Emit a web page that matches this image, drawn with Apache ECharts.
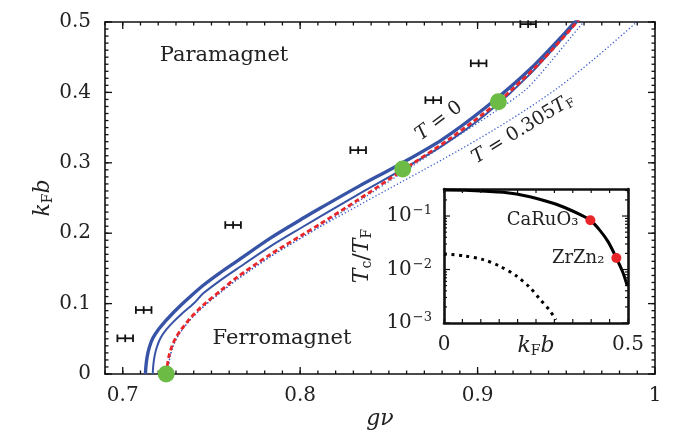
<!DOCTYPE html>
<html>
<head>
<meta charset="utf-8">
<script src="https://cdn.jsdelivr.net/npm/echarts@6/dist/echarts.min.js"></script>
<style>
  html, body { margin: 0; padding: 0; background: #fff; }
  #main { width: 690px; height: 440px; }
</style>
</head>
<body>
<div id="main"></div>
<script>
// ---- main panel: k_F b against g nu ----
const xMajor = [0.7, 0.8, 0.9, 1.0];
const yMajor = [0, 0.1, 0.2, 0.3, 0.4, 0.5];

// T = 0, thick solid
const curveT0 = [[0.7128, 0], [0.7131, 0.012], [0.7138, 0.025], [0.7150, 0.038], [0.7170, 0.051],
  [0.7200, 0.063], [0.7240, 0.075], [0.7266, 0.082], [0.7300, 0.091], [0.7370, 0.1075],
  [0.7454, 0.126], [0.7550, 0.144], [0.7642, 0.160], [0.7830, 0.1927], [0.8018, 0.2215],
  [0.8112, 0.2354], [0.8330, 0.2665], [0.8544, 0.2955], [0.8800, 0.3330], [0.9052, 0.3800],
  [0.9300, 0.4340], [0.9550, 0.5000], [0.9620, 0.5200]];
// second solid curve
const curveSolid2 = [[0.7169, 0], [0.7172, 0.012], [0.7179, 0.025], [0.7192, 0.038], [0.7213, 0.051],
  [0.7245, 0.063], [0.7285, 0.074], [0.7330, 0.085], [0.7400, 0.100], [0.7454, 0.1146],
  [0.7550, 0.1330], [0.7642, 0.149], [0.7830, 0.181], [0.8018, 0.2095], [0.8112, 0.2235],
  [0.8330, 0.2555], [0.8544, 0.2860], [0.8800, 0.3240], [0.9052, 0.3700], [0.9300, 0.4270],
  [0.9560, 0.5000], [0.9630, 0.5200]];
// red dashed
const curveDashed = [[0.7245, 0], [0.7250, 0.010], [0.7260, 0.025], [0.7278, 0.040], [0.7298, 0.051],
  [0.7323, 0.061], [0.7380, 0.079], [0.7454, 0.098], [0.7550, 0.118], [0.7642, 0.137],
  [0.7830, 0.1695], [0.8018, 0.1985], [0.8112, 0.2130], [0.8330, 0.2480], [0.8578, 0.2895],
  [0.8850, 0.3355], [0.9117, 0.3868], [0.9350, 0.4420], [0.9560, 0.5000], [0.9620, 0.5200]];
// dotted, close to the dashed one
const curveDotted1 = [[0.7252, 0], [0.7257, 0.010], [0.7267, 0.025], [0.7285, 0.040], [0.7305, 0.051],
  [0.7330, 0.061], [0.7387, 0.079], [0.7461, 0.097], [0.7557, 0.117], [0.7649, 0.135],
  [0.7837, 0.1675], [0.8025, 0.1965], [0.8119, 0.2110], [0.8334, 0.2460], [0.8582, 0.2870],
  [0.8882, 0.3370], [0.9100, 0.3730], [0.9258, 0.4010], [0.9333, 0.4200], [0.9597, 0.5000],
  [0.9660, 0.5200]];
// dotted, T = 0.305 T_F
const curveDotted2 = [[0.7252, 0], [0.7257, 0.010], [0.7267, 0.025], [0.7285, 0.040], [0.7305, 0.051],
  [0.7330, 0.061], [0.7387, 0.079], [0.7461, 0.097], [0.7557, 0.117], [0.7649, 0.135],
  [0.7837, 0.1675], [0.8025, 0.1960], [0.8119, 0.2100], [0.8334, 0.2400], [0.8507, 0.2640],
  [0.8700, 0.2905], [0.8882, 0.3160], [0.9080, 0.3450], [0.9258, 0.3730], [0.9450, 0.4060],
  [0.9650, 0.4460], [0.9897, 0.5000], [0.9980, 0.5200]];

const greenX = [0.7245, 0.8578, 0.9117];
const greenY = [0, 0.2912, 0.3868];

const errX = [0.7014, 0.7118, 0.7622, 0.8327, 0.8750, 0.9006, 0.9285];
const errY = [0.0507, 0.0909, 0.2116, 0.3180, 0.3890, 0.4413, 0.4970];
const errW = [0.0044, 0.0044, 0.0044, 0.0044, 0.0044, 0.0044, 0.0044];

// ---- inset: T_c / T_F against k_F b (log) ----
const insetXLabels = [0, 0.5];
const insetYMajor = [0.001, 0.01, 0.1];
const insetYMinor = [0.002, 0.003, 0.004, 0.005, 0.006, 0.007, 0.008, 0.009,
  0.02, 0.03, 0.04, 0.05, 0.06, 0.07, 0.08, 0.09, 0.2, 0.3];
const tcSolid = [[0, 0.305], [0.0705, 0.301], [0.161, 0.277], [0.2333, 0.230], [0.2966, 0.173],
  [0.3418, 0.131], [0.3689, 0.107], [0.3978, 0.0832], [0.4231, 0.0545], [0.4458, 0.0332],
  [0.4684, 0.0164], [0.4864, 0.0087], [0.4973, 0.0051]];
const tcDotted = [[0, 0.0195], [0.0524, 0.0181], [0.1067, 0.0153], [0.1519, 0.0115],
  [0.1971, 0.00754], [0.2333, 0.0046], [0.2604, 0.0028], [0.2875, 0.00171], [0.3040, 0.00115]];
const materials = ['CaRuO₃', 'ZrZn₂'];
const materialX = [0.3978, 0.4684];
const materialY = [0.0832, 0.0164];

// evenly spaced tick positions (axis furniture, not data)
function steps(from, to, step) {
  const out = [];
  for (let v = from; v <= to + step / 2; v += step) out.push(+v.toFixed(4));
  return out;
}
const xMinor = steps(0.69, 1.0, 0.01);
const yMinor = steps(0, 0.5, 0.01);
const insetXTicks = steps(0, 0.5, 0.05);

const ink = '#222';
const serif = 'DejaVu Serif';
const blue = '#3653a6';
const dotBlue = '#3d5fc9';
const red = '#e8262a';
const green = '#6bbb45';

const richText = {
  i: { fontFamily: serif, fontStyle: 'italic', fontSize: 22, color: ink },
  r: { fontFamily: serif, fontSize: 22, color: ink },
  s: { fontFamily: serif, fontSize: 14, color: ink, padding: [9, 0, 0, 0] }
};
const smallRich = {
  i: { fontFamily: serif, fontStyle: 'italic', fontSize: 19, color: ink },
  r: { fontFamily: serif, fontSize: 19, color: ink },
  s: { fontFamily: serif, fontSize: 12, color: ink, padding: [8, 0, 0, 0] }
};

function frame(extra, w) {
  return Object.assign({
    type: 'value',
    nameMoveOverlap: false,
    axisLine: { show: true, onZero: false, lineStyle: { color: '#111', width: w || 1.6 } },
    splitLine: { show: false },
    axisLabel: { show: false },
    axisTick: { show: false }
  }, extra);
}

// inside ticks on both edges of a grid, drawn through the axis scale
function tickSeries(xi, yi, dir, items, lineW) {
  return {
    type: 'custom', xAxisIndex: xi, yAxisIndex: yi, z: 9, silent: true, clip: false,
    data: items,
    encode: { x: 0, y: 1 },
    renderItem: function (params, api) {
      const cs = params.coordSys;
      const p = api.coord([api.value(0), api.value(1)]);
      const len = api.value(2);
      const st = { stroke: '#111', lineWidth: lineW };
      let a, b;
      if (dir === 'x') {
        a = { x1: p[0], y1: cs.y + cs.height, x2: p[0], y2: cs.y + cs.height - len };
        b = { x1: p[0], y1: cs.y, x2: p[0], y2: cs.y + len };
      } else {
        a = { x1: cs.x, y1: p[1], x2: cs.x + len, y2: p[1] };
        b = { x1: cs.x + cs.width, y1: p[1], x2: cs.x + cs.width - len, y2: p[1] };
      }
      return { type: 'group', children: [
        { type: 'line', shape: a, style: st },
        { type: 'line', shape: b, style: st }
      ] };
    }
  };
}

function line(data, color, width, type, z) {
  return {
    type: 'line', xAxisIndex: 0, yAxisIndex: 0, data: data, showSymbol: false,
    smooth: 0.3, z: z, silent: true,
    lineStyle: { color: color, width: width, type: type, cap: 'butt' }
  };
}

const mainXTicks = xMinor.map(function (v) { return [v, 0.25, 3.5]; })
  .concat(xMajor.map(function (v) { return [v, 0.25, 7]; }));
const mainYTicks = yMinor.map(function (v) { return [0.8, v, 3.5]; })
  .concat(yMajor.map(function (v) { return [0.8, v, 7]; }));
const inXTicks = insetXTicks.map(function (v) { return [v, 0.01, 4]; });
const inYTicks = insetYMinor.map(function (v) { return [0, v, 3]; })
  .concat(insetYMajor.map(function (v) { return [0, v, 6]; }));

const chart = echarts.init(document.getElementById('main'));

const option = {
  animation: false,
  backgroundColor: '#fff',
  grid: [
    { left: 105, top: 22, right: 35, bottom: 66 },
    { left: 444, top: 189, width: 184, height: 134, show: true, backgroundColor: '#fff', borderWidth: 0, z: 5 },
    // same box as the main panel, carries only its tick marks
    { left: 105, top: 22, width: 550, height: 352, show: true, backgroundColor: 'transparent', borderWidth: 0, z: 8 }
  ],
  xAxis: [
    frame({
      gridIndex: 0, position: 'bottom', min: 0.69, max: 1,
      axisLabel: { show: true, customValues: xMajor, fontFamily: serif, fontSize: 20, color: ink, margin: 12 },
      name: '{i|gν}', nameLocation: 'middle', nameGap: 34,
      nameTextStyle: { rich: richText }
    }),
    frame({ gridIndex: 0, position: 'top', min: 0.69, max: 1 }),
    frame({
      gridIndex: 1, position: 'bottom', min: 0, max: 0.5, z: 6,
      axisLabel: { show: true, customValues: insetXLabels, fontFamily: serif, fontSize: 20, color: ink, margin: 12 },
      name: '{i|k}{s|F}{i|b}', nameLocation: 'middle', nameGap: 12,
      nameTextStyle: { rich: richText }
    }, 2.6),
    frame({ gridIndex: 1, position: 'top', min: 0, max: 0.5, z: 6 }, 2.6),
    { type: 'value', gridIndex: 2, show: false, min: 0.69, max: 1 }
  ],
  yAxis: [
    frame({
      gridIndex: 0, position: 'left', min: 0, max: 0.5, interval: 0.1,
      axisLabel: { show: true, fontFamily: serif, fontSize: 20, color: ink, margin: 14 },
      name: '{i|k}{s|F}{i|b}', nameLocation: 'middle', nameGap: 50,
      nameTextStyle: { rich: richText }
    }),
    frame({ gridIndex: 0, position: 'right', min: 0, max: 0.5, interval: 0.1 }),
    frame({
      type: 'log', gridIndex: 1, position: 'left', min: 0.001, max: 0.32, z: 6,
      axisLabel: {
        show: true, customValues: insetYMajor, margin: 12,
        formatter: function (v) { return '{b|10}{p|−' + Math.round(-Math.log10(v)) + '}'; },
        rich: {
          b: { fontFamily: serif, fontSize: 20, color: ink },
          p: { fontFamily: serif, fontSize: 13, color: ink, padding: [0, 0, 10, 1] }
        }
      },
      name: '{i|T}{s|c}{r|/}{i|T}{s|F}', nameLocation: 'middle', nameGap: 70,
      nameTextStyle: { rich: richText }
    }, 2.6),
    frame({ type: 'log', gridIndex: 1, position: 'right', min: 0.001, max: 0.32, z: 6 }, 2.6),
    { type: 'value', gridIndex: 2, show: false, min: 0, max: 0.5 }
  ],
  series: [
    line(curveDotted2, dotBlue, 1.3, [1.3, 2.2], 2),
    line(curveDotted1, dotBlue, 1.3, [1.3, 2.2], 2),
    line(curveSolid2, blue, 2, 'solid', 3),
    line(curveT0, blue, 3.4, 'solid', 3),
    line(curveDashed, red, 2.8, [5, 3], 4),
    {
      type: 'custom', xAxisIndex: 0, yAxisIndex: 0, z: 4, silent: true,
      data: errX.map(function (x, i) { return [x, errY[i], errW[i]]; }),
      encode: { x: 0, y: 1 },
      renderItem: function (params, api) {
        const c = api.coord([api.value(0), api.value(1)]);
        const l = api.coord([api.value(0) - api.value(2), api.value(1)]);
        const r = api.coord([api.value(0) + api.value(2), api.value(1)]);
        const h = 3.8;
        const st = { stroke: '#111', lineWidth: 1.8 };
        return {
          type: 'group',
          children: [
            { type: 'line', shape: { x1: l[0], y1: c[1], x2: r[0], y2: c[1] }, style: st },
            { type: 'line', shape: { x1: l[0], y1: c[1] - h, x2: l[0], y2: c[1] + h }, style: st },
            { type: 'line', shape: { x1: r[0], y1: c[1] - h, x2: r[0], y2: c[1] + h }, style: st },
            { type: 'line', shape: { x1: c[0], y1: c[1] - h, x2: c[0], y2: c[1] + h }, style: st }
          ]
        };
      }
    },
    {
      type: 'scatter', xAxisIndex: 0, yAxisIndex: 0, z: 10, silent: true,
      symbolSize: 17, itemStyle: { color: green, opacity: 1 },
      data: greenX.map(function (x, i) { return [x, greenY[i]]; })
    },
    {
      type: 'line', xAxisIndex: 2, yAxisIndex: 2, data: tcSolid, showSymbol: false,
      smooth: 0.3, z: 6, silent: true, lineStyle: { color: '#000', width: 3 }
    },
    {
      type: 'line', xAxisIndex: 2, yAxisIndex: 2, data: tcDotted, showSymbol: false,
      smooth: 0.3, z: 6, silent: true, lineStyle: { color: '#000', width: 3, type: [3, 4.5], cap: 'butt' }
    },
    {
      type: 'scatter', xAxisIndex: 2, yAxisIndex: 2, z: 7, silent: true,
      symbolSize: 10, itemStyle: { color: red, opacity: 1 },
      data: materials.map(function (n, i) { return { name: n, value: [materialX[i], materialY[i]] }; }),
      label: {
        show: true, position: 'left', distance: 7, formatter: '{b}',
        fontFamily: serif, fontSize: 18, color: ink
      }
    },
    tickSeries(2, 2, 'x', inXTicks, 1.2),
    tickSeries(2, 2, 'y', inYTicks, 1.2),
    tickSeries(4, 4, 'x', mainXTicks, 1.3),
    tickSeries(4, 4, 'y', mainYTicks, 1.3)
  ],
  graphic: [
    { type: 'text', x: 224, y: 56, z: 10, style: { text: 'Paramagnet', font: '21px "DejaVu Serif"', fill: ink, align: 'center', verticalAlign: 'middle' } },
    { type: 'text', x: 282, y: 339, z: 10, style: { text: 'Ferromagnet', font: '21px "DejaVu Serif"', fill: ink, align: 'center', verticalAlign: 'middle' } },
    { type: 'text', x: 439, y: 121, z: 10, rotation: 36.7 * Math.PI / 180,
      style: { text: '{i|T} = 0', rich: smallRich, font: '19px "DejaVu Serif"', fill: ink, align: 'center', verticalAlign: 'middle' } },
    { type: 'text', x: 523, y: 129, z: 10, rotation: 31.8 * Math.PI / 180,
      style: { text: '{i|T} = 0.305{i|T}{s|F}', rich: smallRich, font: '19px "DejaVu Serif"', fill: ink, align: 'center', verticalAlign: 'middle' } }
  ]
};

chart.setOption(option);
</script>
</body>
</html>
